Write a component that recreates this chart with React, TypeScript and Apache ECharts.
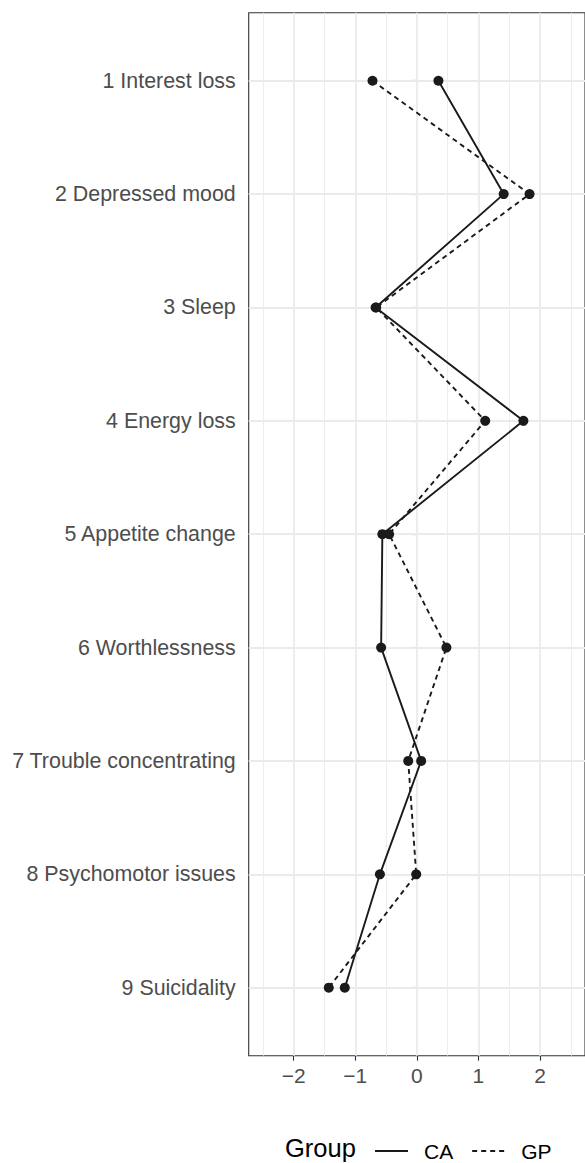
import React, { useEffect, useRef } from "react";
import * as echarts from "echarts";

const symptoms = [
  "1 Interest loss",
  "2 Depressed mood",
  "3 Sleep",
  "4 Energy loss",
  "5 Appetite change",
  "6 Worthlessness",
  "7 Trouble concentrating",
  "8 Psychomotor issues",
  "9 Suicidality",
];
const positions = [1, 2, 3, 4, 5, 6, 7, 8, 9];
const caValues = [0.35, 1.41, -0.67, 1.73, -0.56, -0.58, 0.07, -0.6, -1.17];
const gpValues = [-0.72, 1.83, -0.66, 1.11, -0.45, 0.48, -0.14, -0.01, -1.43];
const groups = ["CA", "GP"];
const xTicks = [-2, -1, 0, 1, 2];
const xMinor = [-2.5, -1.5, -0.5, 0.5, 1.5, 2.5];

const FONT = "'Liberation Sans', Arial, Helvetica, sans-serif";

export default function App() {
  const ref = useRef<HTMLDivElement>(null);
  useEffect(() => {
    if (!ref.current) return;
    const chart = echarts.init(ref.current, undefined, { renderer: "svg" });
    const major = { color: "#EBEBEB", width: 1.8, type: "solid" };
    const minor = { color: "#EBEBEB", width: 0.9, type: "solid" };
    chart.setOption({
      animation: false,
      grid: {
        left: 248.7,
        top: 12.7,
        right: -1,
        bottom: 107.3,
        show: true,
        borderColor: "#333333",
        borderWidth: 1.1,
        backgroundColor: "transparent",
      },
      xAxis: {
        type: "value",
        min: -2.73,
        max: 2.73,
        axisLine: { show: false },
        splitLine: { show: false },
        axisTick: {
          show: true,
          customValues: xTicks,
          length: 5,
          lineStyle: { color: "#333333", width: 1.1 },
        },
        axisLabel: {
          customValues: xTicks,
          formatter: (v: number) => (v < 0 ? "\u2212" + Math.abs(v) : String(v)),
          color: "#4D4D4D",
          fontSize: 21,
          fontFamily: FONT,
          margin: 9,
        },
      },
      yAxis: {
        type: "value",
        inverse: true,
        min: 0.4,
        max: 9.6,
        axisLine: { show: false },
        splitLine: { show: false },
        axisTick: {
          show: true,
          customValues: positions,
          length: 5,
          lineStyle: { color: "#333333", width: 1.1 },
        },
        axisLabel: {
          customValues: positions,
          formatter: (v: number) => symptoms[Math.round(v) - 1] ?? "",
          color: "#4D4D4D",
          fontSize: 21.4,
          fontFamily: FONT,
          margin: 13,
        },
      },
      legend: {
        data: groups,
        left: 374,
        top: 1140.5,
        padding: 0,
        orient: "horizontal",
        itemWidth: 33,
        itemHeight: 14,
        itemGap: 18,
        selectedMode: false,
        itemStyle: { opacity: 0 },
        textStyle: {
          fontSize: 21,
          color: "#000000",
          fontFamily: FONT,
          padding: [0, 0, 0, 11],
        },
      },
      graphic: [
        {
          type: "text",
          x: 285,
          y: 1148,
          style: {
            text: "Group",
            fontSize: 25.5,
            lineHeight: 20,
            fontFamily: FONT,
            fill: "#000000",
            align: "left",
            verticalAlign: "middle",
          },
        },
      ],
      series: [
        {
          name: "gridlines",
          type: "line",
          data: [],
          silent: true,
          z: 1,
          markLine: {
            silent: true,
            z: 1,
            symbol: ["none", "none"],
            label: { show: false },
            emphasis: { disabled: true },
            lineStyle: major,
            data: [
              ...xMinor.map((v) => ({ xAxis: v, lineStyle: minor })),
              ...xTicks.map((v) => ({ xAxis: v, lineStyle: major })),
              ...positions.map((p) => ({ yAxis: p, lineStyle: major })),
            ],
          },
        },
        {
          name: groups[0],
          type: "line",
          z: 3,
          data: caValues.map((v, i) => [v, positions[i]]),
          symbol: "circle",
          symbolSize: 10,
          lineStyle: { color: "#1A1A1A", width: 1.9, type: "solid" },
          itemStyle: { color: "#1A1A1A" },
          emphasis: { disabled: true },
        },
        {
          name: groups[1],
          type: "line",
          z: 3,
          data: gpValues.map((v, i) => [v, positions[i]]),
          symbol: "circle",
          symbolSize: 10,
          lineStyle: { color: "#1A1A1A", width: 1.9, type: [5, 4] },
          itemStyle: { color: "#1A1A1A" },
          emphasis: { disabled: true },
        },
      ],
    });
    return () => chart.dispose();
  }, []);
  return (
    <div
      ref={ref}
      style={{ position: "absolute", left: 0, top: 0, width: 585, height: 1163 }}
    />
  );
}
